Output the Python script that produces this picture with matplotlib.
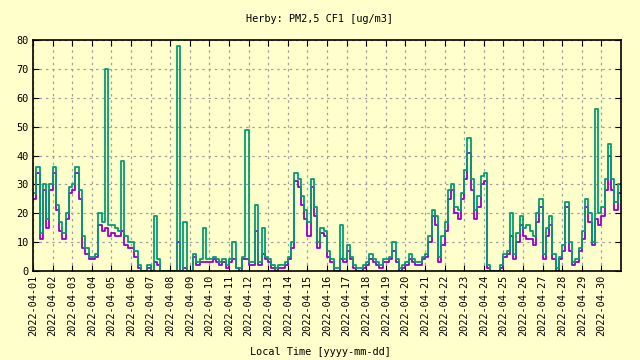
import matplotlib
matplotlib.use("Agg")
import matplotlib.pyplot as plt
import matplotlib.dates as mdates
import numpy as np
import pandas as pd

#values, 4 hour steps, 6 per day (Apr 1 .. Apr 30)
green = [27, 36, 13, 30, 18, 30,
         36, 23, 17, 13, 20, 29,
         30, 36, 28, 12, 8, 5,
         5, 6, 20, 17, 70, 16,
         16, 15, 14, 38, 12, 10,
         10, 7, 2, 0, 0, 2,
         0, 19, 4, 0, 0, 0,
         0, 0, 78, 0, 17, 0,
         0, 6, 3, 4, 15, 4,
         4, 5, 4, 3, 4, 2,
         4, 10, 1, 1, 5, 49,
         3, 3, 23, 3, 15, 5,
         4, 2, 1, 2, 2, 3,
         5, 10, 34, 32, 26, 21,
         17, 32, 22, 10, 15, 14,
         7, 4, 1, 1, 16, 4,
         9, 5, 2, 1, 1, 2,
         3, 6, 4, 3, 2, 4,
         4, 5, 10, 4, 1, 2,
         3, 6, 4, 3, 3, 5,
         6, 12, 21, 19, 5, 12,
         17, 28, 30, 22, 21, 27,
         35, 46, 32, 21, 26, 33,
         34, 2, 0, 0, 0, 2,
         6, 7, 20, 6, 13, 19,
         15, 16, 14, 12, 20, 25,
         6, 15, 19, 6, 1, 5,
         9, 24, 10, 3, 4, 8,
         14, 25, 20, 10, 56, 20,
         22, 32, 44, 32, 24, 30]

purple = [25, 34, 11, 28, 15, 28,
          34, 21, 14, 11, 18, 27,
          28, 34, 25, 8, 6, 4,
          4, 5, 16, 14, 15, 12,
          13, 12, 12, 14, 9, 8,
          8, 5, 1, 0, 0, 1,
          0, 3, 2, 0, 0, 0,
          0, 0, 10, 0, 1, 0,
          0, 5, 2, 3, 3, 3,
          3, 4, 3, 2, 3, 1,
          3, 4, 1, 0, 4, 4,
          2, 2, 14, 2, 6, 4,
          3, 1, 0, 1, 1, 2,
          4, 8, 31, 29, 23, 18,
          12, 29, 19, 8, 13, 12,
          5, 3, 0, 0, 4, 3,
          7, 4, 1, 0, 0, 1,
          2, 4, 3, 2, 1, 3,
          3, 4, 7, 3, 0, 1,
          2, 4, 3, 2, 2, 4,
          5, 10, 19, 16, 3, 9,
          14, 25, 28, 20, 18, 25,
          32, 41, 28, 18, 22, 30,
          31, 1, 0, 0, 0, 1,
          5, 6, 12, 4, 10, 16,
          12, 11, 11, 9, 17, 22,
          4, 12, 16, 4, 0, 4,
          7, 22, 7, 2, 3, 7,
          11, 22, 17, 9, 18, 16,
          19, 28, 40, 28, 21, 27]

title = "Herby: PM2,5 CF1 [ug/m3]"
xlabel = "Local Time [yyyy-mm-dd]"
start = "2022-04-01"
end = "2022-05-01"

bg = "#ffffcc"

times = pd.date_range(start, periods=len(green) + 1, freq="4h")
g = green + [green[-1]]
p = purple + [purple[-1]]
days = pd.date_range(start, "2022-04-30", freq="D")

fig = plt.figure(figsize=(6.4, 3.6), dpi=100, facecolor=bg)
ax = fig.add_axes([33 / 640, 1 - 271 / 360, 588 / 640, 231 / 360])
ax.set_facecolor(bg)

#purple first, green on top
ax.step(times, p, where="post", color="#9400d3", lw=1.3)
ax.step(times, g, where="post", color="#009e73", lw=1.3)

ax.set_xlim(pd.Timestamp(start), pd.Timestamp(end))
ax.set_ylim(0, 80)
ax.set_yticks(np.arange(0, 81, 10))
ax.set_xticks(days)
ax.xaxis.set_major_formatter(mdates.DateFormatter("%Y-%m-%d"))

font = "DejaVu Sans Mono"
fs = 7.4
for lab in ax.get_xticklabels():
    lab.set_rotation(90)
    lab.set_fontfamily(font)
    lab.set_fontsize(fs)
for lab in ax.get_yticklabels():
    lab.set_fontfamily(font)
    lab.set_fontsize(fs)

ax.tick_params(direction="in", length=4, top=True, right=True, pad=3)
ax.grid(True, color="#a0a0a0", linestyle=(0, (2, 3)), lw=0.9)
for s in ax.spines.values():
    s.set_linewidth(1.2)

fig.text(0.5, 1 - 19 / 360, title, ha="center", va="center", family=font, fontsize=fs)
fig.text(0.5, 1 - 352 / 360, xlabel, ha="center", va="center", family=font, fontsize=fs)

fig.savefig("out.png", dpi=100, facecolor=bg)
